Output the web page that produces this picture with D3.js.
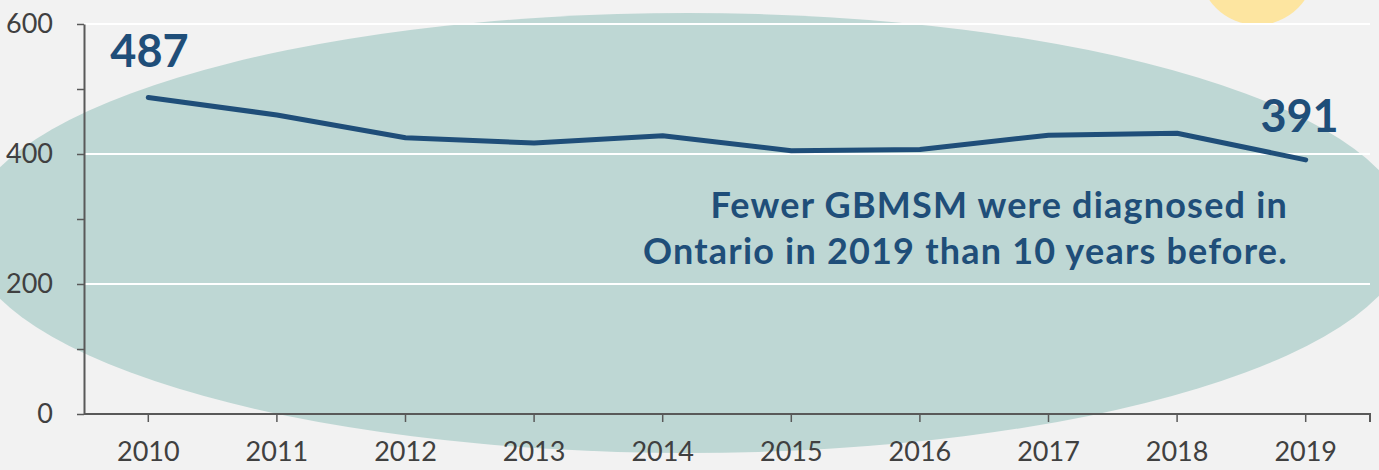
<!DOCTYPE html>
<html>
<head>
<meta charset="utf-8">
<script src="https://cdn.jsdelivr.net/npm/d3@7"></script>
<style>
  body { margin: 0; background: #f2f2f2; }
  svg { display: block; }
</style>
</head>
<body>
<div id="my_dataviz"></div>
<script>
// data
var years = ["2010", "2011", "2012", "2013", "2014", "2015", "2016", "2017", "2018", "2019"];
var diagnoses = [487, 460, 425, 417, 428, 405, 407, 429, 432, 391];
var yTicks = [0, 200, 400, 600];
var noteLines = ["Fewer GBMSM were diagnosed in", "Ontario in 2019 than 10 years before."];

// set the dimensions and margins of the graph
var W = 1379, H = 470;
var margin = {top: 24, right: 9, bottom: 56, left: 84},
    width = W - margin.left - margin.right,
    height = H - margin.top - margin.bottom;

var font = "Lato, 'Open Sans', sans-serif";
var navy = "#1f4e79";

var svg = d3.select("#my_dataviz")
  .append("svg")
    .attr("width", W)
    .attr("height", H);

// background
svg.append("rect").attr("width", W).attr("height", H).attr("fill", "#f2f2f2");

// decorative shapes
svg.append("circle")
  .attr("cx", 1257).attr("cy", -33).attr("r", 58)
  .attr("fill", "#fde5a0");
svg.append("ellipse")
  .attr("cx", 688).attr("cy", 233)
  .attr("rx", 721).attr("ry", 220)
  .attr("fill", "#bed7d4");

var g = svg.append("g")
  .attr("transform", "translate(" + margin.left + "," + margin.top + ")");

// scales
var x = d3.scaleBand()
  .domain(years)
  .range([0, width]);
var y = d3.scaleLinear()
  .domain([0, 600])
  .range([height, 0]);

// gridlines
g.append("g")
  .selectAll("line")
  .data(yTicks.slice(1))
  .enter().append("line")
    .attr("x1", 0).attr("x2", width)
    .attr("y1", function(d) { return y(d); })
    .attr("y2", function(d) { return y(d); })
    .attr("stroke", "#ffffff")
    .attr("stroke-width", 2);

// Y axis (ticks every 100, labels every 200)
var yAxis = g.append("g")
  .call(d3.axisLeft(y).tickValues(d3.range(0, 601, 100)).tickSize(7).tickSizeOuter(0)
    .tickFormat(function(d) { return yTicks.indexOf(d) >= 0 ? d : ""; }));
yAxis.select(".domain").attr("stroke", "#595959").attr("stroke-width", 2);
yAxis.selectAll(".tick line").attr("stroke", "#595959").attr("stroke-width", 1.5);
yAxis.selectAll(".tick text")
  .attr("x", -31)
  .style("font-family", font)
  .style("font-size", "27px")
  .attr("fill", "#404040");

// X axis
var xAxis = g.append("g")
  .attr("transform", "translate(0," + height + ")")
  .call(d3.axisBottom(x).tickSize(8).tickSizeOuter(8));
xAxis.select(".domain")
  .attr("d", "M0,0H" + width + "V8")
  .attr("stroke", "#595959").attr("stroke-width", 2);
xAxis.selectAll(".tick line").attr("stroke", "#595959").attr("stroke-width", 1.5);
xAxis.selectAll(".tick text")
  .attr("y", 28)
  .style("font-family", font)
  .style("font-size", "27px")
  .attr("fill", "#404040");

// line
var line = d3.line()
  .x(function(d, i) { return x(years[i]) + x.bandwidth() / 2; })
  .y(function(d) { return y(d); });
g.append("path")
  .datum(diagnoses)
  .attr("d", line)
  .attr("fill", "none")
  .attr("stroke", navy)
  .attr("stroke-width", 5)
  .attr("stroke-linejoin", "round")
  .attr("stroke-linecap", "round");

// first and last value labels
var last = diagnoses.length - 1;
g.append("text")
  .attr("x", x(years[0]) + x.bandwidth() / 2 - 38)
  .attr("y", y(diagnoses[0]) - 30)
  .style("font-family", font).style("font-size", "45px").style("font-weight", "bold")
  .attr("fill", navy)
  .text(diagnoses[0]);
g.append("text")
  .attr("x", x(years[last]) + x.bandwidth() / 2 + 33)
  .attr("y", y(diagnoses[last]) - 28)
  .attr("text-anchor", "end")
  .style("font-family", font).style("font-size", "45px").style("font-weight", "bold")
  .attr("fill", navy)
  .text(diagnoses[last]);

// annotation
svg.append("g")
  .selectAll("text")
  .data(noteLines)
  .enter().append("text")
    .attr("x", 1288)
    .attr("y", function(d, i) { return 218 + i * 46; })
    .attr("text-anchor", "end")
    .style("font-family", font).style("font-size", "36px").style("font-weight", "bold")
    .style("letter-spacing", "1.2px")
    .attr("fill", navy)
    .text(function(d) { return d; });
</script>
</body>
</html>
